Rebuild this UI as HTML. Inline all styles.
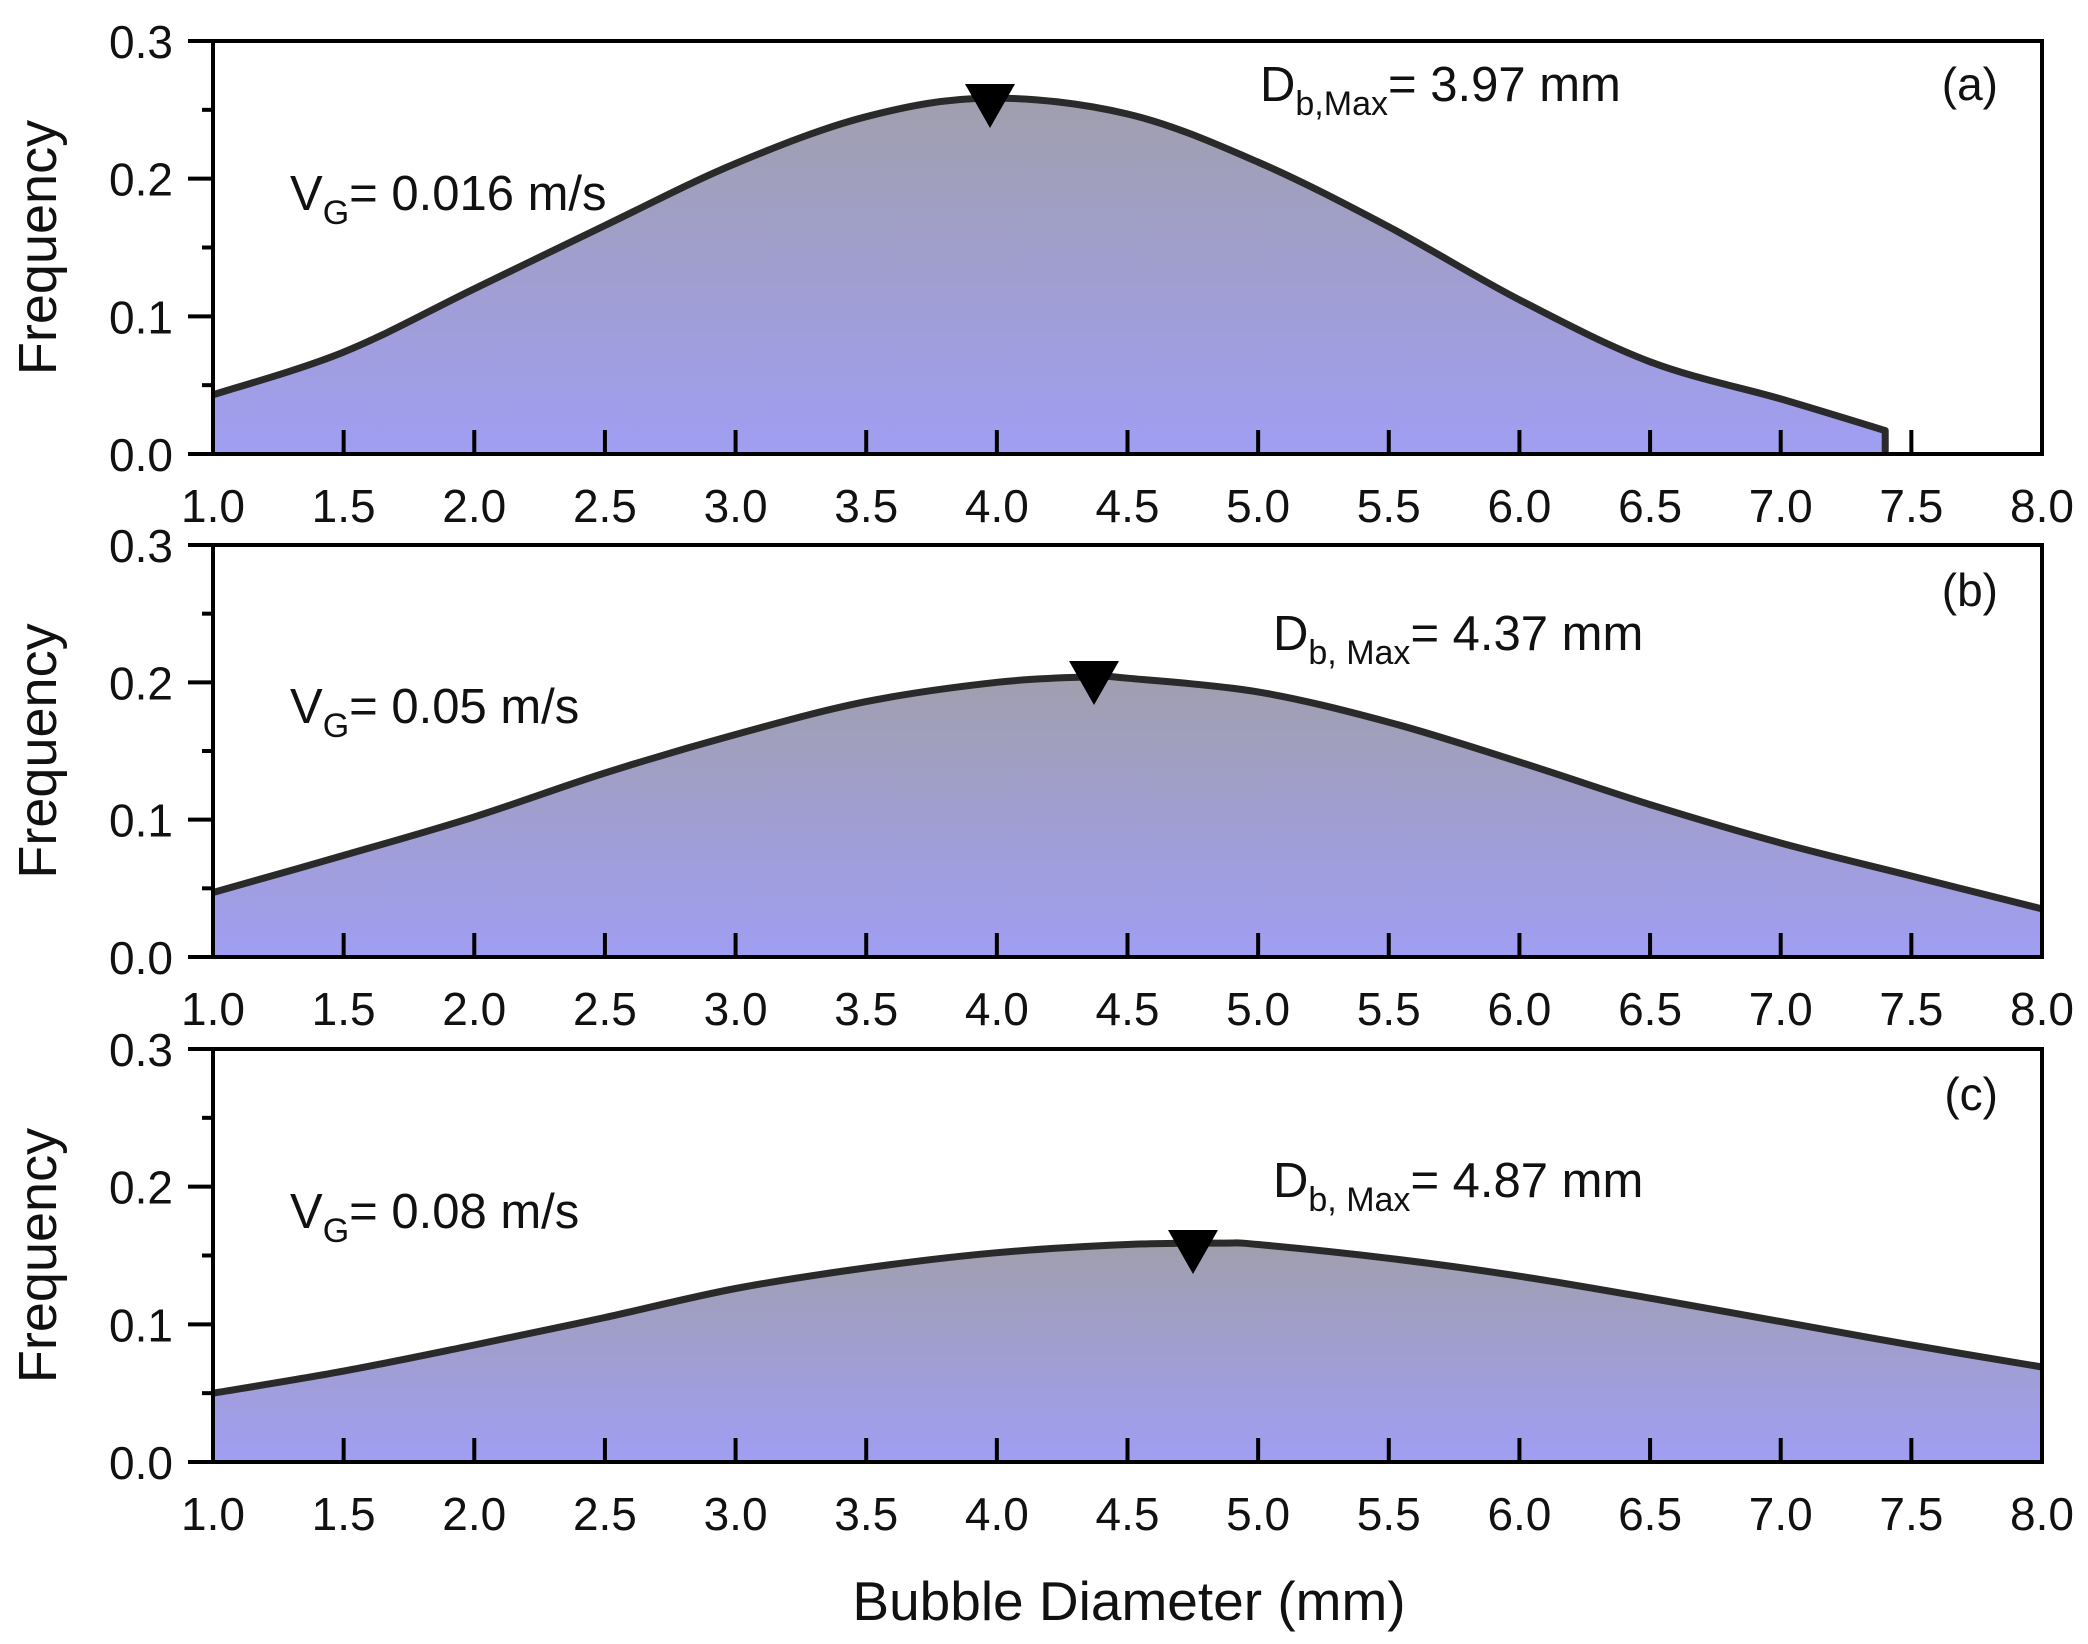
<!DOCTYPE html>
<html><head><meta charset="utf-8"><style>
html,body{margin:0;padding:0;background:#fff;}
svg{display:block;}
text{font-family:"Liberation Sans",Arial,sans-serif;fill:#111;}
</style></head><body>
<svg id="s" width="2088" height="1644" viewBox="0 0 2088 1644" xmlns="http://www.w3.org/2000/svg">
<defs>
<linearGradient id="g" x1="0" y1="0" x2="0" y2="1">
<stop offset="0" stop-color="#a09fae"/>
<stop offset="1" stop-color="#a09ef2"/>
</linearGradient>
</defs>
<g id="root"></g>
<text x="1129" y="1620" font-size="55" text-anchor="middle">Bubble Diameter (mm)</text>
</svg>
<script>
const NS="http://www.w3.org/2000/svg";
const root=document.getElementById('root');
const L=213,R=2042;
function X(v){return L+(v-1)*(R-L)/7;}
const panels=[
{top:41,bot:454,end:7.4,
 d:[[1,0.043],[1.5,0.074],[2,0.12],[2.5,0.166],[3,0.211],[3.5,0.245],[3.97,0.2585],[4.5,0.247],[5,0.212],[5.5,0.165],[6,0.112],[6.5,0.067],[7,0.040],[7.4,0.017]],
 tri:[990,84],vg:[290,210],D:[1260,101],Dt:"b,Max",lab:"(a)",ly:100},
{top:545,bot:957,end:8,
 d:[[1,0.047],[1.5,0.074],[2,0.102],[2.5,0.134],[3,0.162],[3.5,0.186],[4,0.200],[4.37,0.204],[4.5,0.203],[5,0.193],[5.5,0.171],[6,0.142],[6.5,0.111],[7,0.083],[7.5,0.059],[8,0.035]],
 tri:[1094,661],vg:[290,723],D:[1273,650],Dt:"b, Max",lab:"(b)",ly:606},
{top:1049,bot:1462,end:8,
 d:[[1,0.050],[1.5,0.066],[2,0.085],[2.5,0.105],[3,0.126],[3.5,0.141],[4,0.152],[4.5,0.158],[4.87,0.159],[5,0.158],[5.5,0.148],[6,0.135],[6.5,0.119],[7,0.102],[7.5,0.085],[8,0.069]],
 tri:[1193,1230],vg:[290,1228],D:[1273,1197],Dt:"b, Max",lab:"(c)",ly:1110}
];
const vgtexts=["= 0.016 m/s","= 0.05 m/s","= 0.08 m/s"];
const dtexts=["= 3.97 mm","= 4.37 mm","= 4.87 mm"];
function el(t,a,txt){const e=document.createElementNS(NS,t);for(const k in a)e.setAttribute(k,a[k]);if(txt!==undefined)e.textContent=txt;root.appendChild(e);return e;}
panels.forEach((p,i)=>{
  const Y=v=>p.bot-v*(p.bot-p.top)/0.3;
  const pts=p.d.map(q=>[X(q[0]),Y(q[1])]);
  let c="M"+pts[0][0]+","+pts[0][1];
  for(let k=0;k<pts.length-1;k++){
    const p0=pts[Math.max(0,k-1)],p1=pts[k],p2=pts[k+1],p3=pts[Math.min(pts.length-1,k+2)];
    const c1=[p1[0]+(p2[0]-p0[0])/6,p1[1]+(p2[1]-p0[1])/6];
    const c2=[p2[0]-(p3[0]-p1[0])/6,p2[1]-(p3[1]-p1[1])/6];
    c+=` C${c1[0].toFixed(1)},${c1[1].toFixed(1)} ${c2[0].toFixed(1)},${c2[1].toFixed(1)} ${p2[0].toFixed(1)},${p2[1].toFixed(1)}`;
  }
  const xe=X(p.end);
  el('path',{d:c+` L${xe},${p.bot} L${L},${p.bot} Z`,fill:'url(#g)'});
  let line=c; if(p.end<8) line+=` L${xe},${p.bot}`;
  el('path',{d:line,fill:'none',stroke:'#2a2a2a','stroke-width':7,'stroke-linejoin':'round'});
  for(let k=1;k<14;k++){const x=X(1+k*0.5);el('line',{x1:x,x2:x,y1:p.bot,y2:p.bot-24,stroke:'#000','stroke-width':4});}
  el('rect',{x:L,y:p.top,width:R-L,height:p.bot-p.top,fill:'none',stroke:'#000','stroke-width':4});
  for(let k=0;k<=6;k++){const y=p.bot-k*(p.bot-p.top)/6;const len=k%2==0?25:11;el('line',{x1:L-len,x2:L,y1:y,y2:y,stroke:'#000','stroke-width':4});}
  ["0.0","0.1","0.2","0.3"].forEach((t,k)=>{const y=p.bot-k*(p.bot-p.top)/3;el('text',{x:173,y:y+17,'font-size':46,'text-anchor':'end'},t);});
  for(let k=0;k<=14;k++){const v=1+k*0.5;el('text',{x:X(v),y:p.bot+68,'font-size':46,'text-anchor':'middle'},v.toFixed(1));}
  el('text',{x:0,y:0,'font-size':54,'text-anchor':'middle',transform:`translate(56,${(p.top+p.bot)/2}) rotate(-90)`},"Frequency");
  const [tx,ty]=p.tri;
  el('path',{d:`M${tx-25},${ty} L${tx+25},${ty} L${tx},${ty+44} Z`,fill:'#000'});
  const t1=el('text',{x:p.vg[0],y:p.vg[1],'font-size':49});
  t1.innerHTML=`V<tspan font-size="34" dy="14">G</tspan><tspan dy="-14">${vgtexts[i]}</tspan>`;
  const t2=el('text',{x:p.D[0],y:p.D[1],'font-size':49});
  t2.innerHTML=`D<tspan font-size="34" dy="14">${p.Dt}</tspan><tspan dy="-14">${dtexts[i]}</tspan>`;
  el('text',{x:1998,y:p.ly,'font-size':46,'text-anchor':'end'},p.lab);
});
</script>
</body></html>
